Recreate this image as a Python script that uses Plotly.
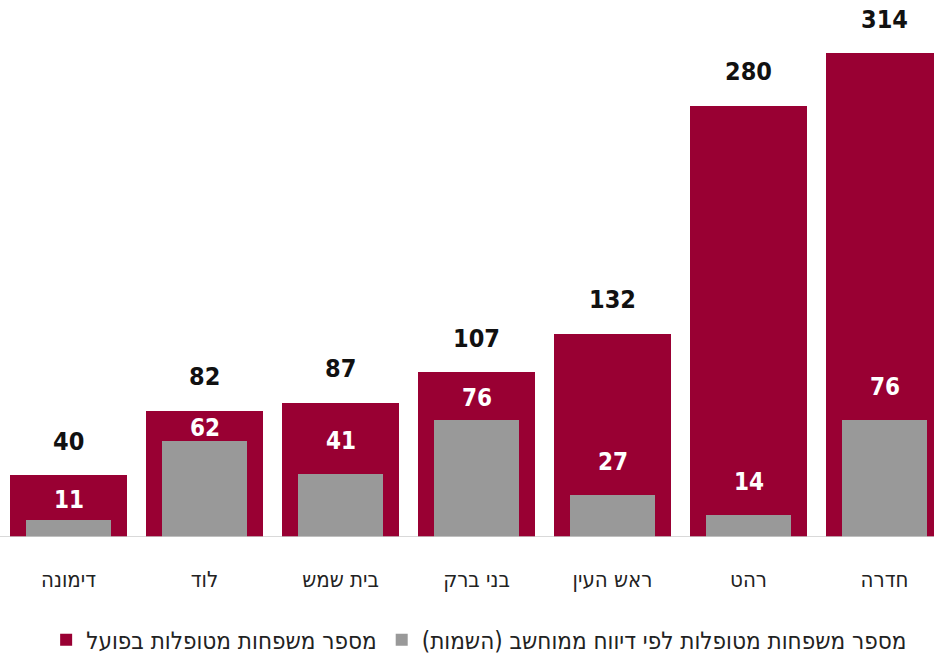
import plotly.graph_objects as go

cities = ["דימונה", "לוד", "בית שמש", "בני ברק", "ראש העין", "רהט", "חדרה"]
actual = [40, 82, 87, 107, 132, 280, 314]
reported = [11, 62, 41, 76, 27, 14, 76]
name_actual = "\u200fמספר משפחות מטופלות בפועל\u200f"
name_reported = "\u200fמספר משפחות מטופלות לפי דיווח ממוחשב (השמות)\u200f"

RED = "#990033"
GRAY = "#999999"
NUM_FONT = "DejaVu Sans Condensed"
HEB_FONT = "DejaVu Sans Condensed"

PLOT_H = 537
Y_MAX = 348.5
px_per_unit = PLOT_H / Y_MAX

fig = go.Figure()
fig.add_trace(go.Bar(x=cities, y=actual, name=name_actual, marker=dict(color=RED, line=dict(width=0)),
                     width=0.86, hoverinfo="x+y"))
fig.add_trace(go.Bar(x=cities, y=reported, name=name_reported, marker=dict(color=GRAY, line=dict(width=0)),
                     width=0.63, hoverinfo="x+y"))

for c, a, r in zip(cities, actual, reported):
    fig.add_annotation(x=c, y=a, text=f"<b>{a}</b>", showarrow=False, yanchor="middle",
                       yshift=34, font=dict(family=NUM_FONT, size=25, color="#111111"))
    gap_px = (a - r) * px_per_unit
    off = min(33, gap_px / 2 - 2)
    fig.add_annotation(x=c, y=r, text=f"<b>{r}</b>", showarrow=False, yanchor="middle",
                       yshift=off, font=dict(family=NUM_FONT, size=24, color="white"))

fig.update_layout(
    barmode="overlay",
    width=934, height=657,
    margin=dict(l=0, r=0, t=0, b=120, autoexpand=False),
    plot_bgcolor="white", paper_bgcolor="white",
    bargap=0,
    xaxis=dict(range=[-0.504, 6.364], showgrid=False, zeroline=False, showline=False,
               ticks="", ticklabelstandoff=27, automargin=False,
               tickfont=dict(family=HEB_FONT, size=22, color="#222222")),
    yaxis=dict(range=[0, Y_MAX], visible=False, showgrid=False),
    legend=dict(orientation="h", x=0.513, xanchor="center", y=-0.192, yanchor="middle",
                font=dict(family=HEB_FONT, size=24, color="#222222"), itemsizing="constant"),
    showlegend=True,
)
fig.add_shape(type="line", xref="paper", yref="y", x0=0, x1=1, y0=0, y1=0,
              line=dict(color="#cccccc", width=1.5))

fig.write_html("out.html", config={"displayModeBar": False},
               post_script="document.body.style.margin='0';document.body.style.overflow='hidden';")
